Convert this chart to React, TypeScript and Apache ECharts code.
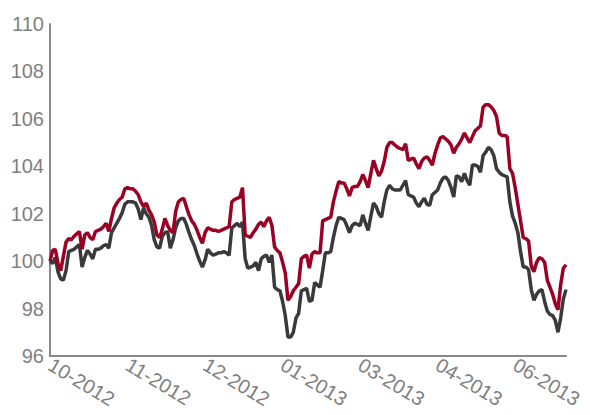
import React, { useEffect, useRef } from "react";
import * as echarts from "echarts";

const startDate = "2012-10-02";
const pointCount = 194;
const yTicks = { min: 96, max: 110, interval: 2 };

const redValues = [
  100.0, 100.45, 100.5, 99.9, 99.6, 100.2, 100.8, 100.95, 100.9, 101.05,
  101.15, 101.25, 100.5, 101.1, 101.2, 101.0, 100.9, 101.25, 101.3, 101.35,
  101.45, 101.6, 101.25, 101.8, 102.25, 102.45, 102.6, 102.7, 103.05, 103.1,
  103.05, 103.05, 102.95, 102.8, 102.5, 102.3, 102.45, 102.15, 101.95, 101.65,
  101.1, 101.0, 101.35, 101.8, 101.5, 101.3, 101.2, 102.1, 102.5, 102.6,
  102.65, 102.3, 101.95, 101.7, 101.55, 101.3, 101.0, 100.75, 101.2, 101.4,
  101.35, 101.3, 101.3, 101.25, 101.3, 101.35, 101.4, 101.45, 102.5, 102.6,
  102.65, 102.7, 103.1, 101.1, 101.05, 101.0, 101.2, 101.35, 101.55, 101.65,
  101.45, 101.7, 101.85, 101.5, 100.6, 100.45, 100.35, 99.95, 99.5, 98.35,
  98.5, 98.75, 98.9, 99.05, 100.1, 100.2, 100.25, 99.7, 100.3, 100.4,
  100.35, 100.35, 101.7, 101.75, 101.8, 101.85, 102.5, 102.95, 103.35, 103.3,
  103.3, 103.05, 102.75, 103.1, 103.15, 103.15, 103.35, 103.65, 103.4, 103.1,
  103.7, 104.25, 103.9, 103.6, 103.8, 104.2, 104.8, 105.0, 105.0, 104.9,
  104.8, 104.75, 104.7, 104.95, 104.25, 104.3, 104.35, 104.1, 103.9, 104.2,
  104.35, 104.4, 104.25, 104.05, 104.55, 104.9, 105.2, 105.25, 105.15, 105.05,
  104.9, 104.55, 104.8, 104.95, 105.15, 105.4, 105.2, 105.0, 105.25, 105.5,
  105.6, 105.7, 106.5, 106.6, 106.6, 106.5, 106.35, 106.1, 105.4, 105.3,
  105.3, 105.25, 103.9, 103.7, 103.1, 102.4, 101.7, 101.0, 100.95, 100.85,
  99.8, 99.55, 99.95, 100.15, 100.1, 99.95, 99.2, 98.9, 98.6, 98.2,
  97.95, 99.0, 99.7, 99.85,
];

const grayValues = [
  100.0, 99.9, 100.15, 99.55, 99.25, 99.2, 99.6, 100.4, 100.45, 100.5,
  100.6, 100.7, 99.75, 100.15, 100.45, 100.3, 100.1, 100.5, 100.5, 100.55,
  100.65, 100.7, 100.55, 101.2, 101.4, 101.6, 101.8, 102.05, 102.4, 102.5,
  102.5, 102.5, 102.45, 102.2, 101.75, 102.25, 102.0, 101.85, 101.5, 100.9,
  100.6, 100.55, 101.05, 101.2, 101.25, 100.55, 100.9, 101.4, 101.7, 101.8,
  101.8, 101.55, 101.2, 100.9, 100.65, 100.3, 100.0, 99.75, 100.05, 100.5,
  100.35, 100.25, 100.3, 100.35, 100.35, 100.4, 100.35, 100.25, 101.4, 101.5,
  101.6, 101.45, 101.65, 100.1, 99.7, 99.75, 99.8, 99.95, 99.6, 100.1,
  100.2, 100.25, 99.95, 100.25, 98.9, 98.8, 98.75, 98.3, 97.7, 96.8,
  96.8, 97.0, 97.6, 97.8, 98.75, 98.8, 98.85, 98.3, 98.35, 99.1,
  99.0, 98.9, 99.6, 100.35, 100.35, 100.4, 101.0, 101.5, 101.85, 101.8,
  101.75, 101.5, 101.2, 101.5, 101.6, 101.55, 101.5, 101.95, 101.6, 101.3,
  101.9, 102.45, 102.3, 102.0, 101.85, 102.5, 103.0, 103.2, 103.05, 103.0,
  103.0, 103.0, 103.2, 103.4, 102.8, 102.75, 102.7, 102.45, 102.3, 102.5,
  102.65, 102.4, 102.35, 102.8, 102.9, 103.0, 103.3, 103.5, 103.55, 103.4,
  103.1, 102.7, 103.6, 103.55, 103.35, 103.7, 103.4, 103.2, 104.05, 104.05,
  104.0, 103.75, 104.45, 104.6, 104.8, 104.7, 104.45, 103.9, 103.75, 103.65,
  103.6, 103.55, 102.5, 101.9, 101.6, 101.2, 100.4, 99.75, 99.75, 99.65,
  98.8, 98.35, 98.6, 98.75, 98.8, 98.3, 97.9, 97.75, 97.7, 97.5,
  97.0, 97.6, 98.4, 98.8,
];

function businessDays(start: string, count: number): string[] {
  const out: string[] = [];
  const d = new Date(start + "T00:00:00Z");
  while (out.length < count) {
    const wd = d.getUTCDay();
    if (wd !== 0 && wd !== 6) {
      const mm = String(d.getUTCMonth() + 1).padStart(2, "0");
      const dd = String(d.getUTCDate()).padStart(2, "0");
      out.push(`${d.getUTCFullYear()}-${mm}-${dd}`);
    }
    d.setUTCDate(d.getUTCDate() + 1);
  }
  return out;
}

const categories = businessDays(startDate, pointCount);

export default function App() {
  const ref = useRef<HTMLDivElement>(null);
  useEffect(() => {
    if (!ref.current) return;
    const chart = echarts.init(ref.current, null, { renderer: "svg" });
    const font = "'Liberation Sans', Arial, sans-serif";
    chart.setOption({
      animation: false,
      grid: { left: 50, right: 24, top: 24, bottom: 59, containLabel: false },
      xAxis: {
        type: "category",
        data: categories,
        boundaryGap: false,
        axisLine: { show: true, lineStyle: { color: "#888888", width: 2 } },
        axisTick: { show: false },
        splitLine: { show: false },
        axisLabel: {
          interval: 28,
          rotate: -31,
          margin: 7,
          color: "#7f7f7f",
          fontSize: 20,
          fontFamily: font,
          hideOverlap: false,
          formatter: (v: string) => `${v.slice(5, 7)}-${v.slice(0, 4)}`,
        },
      },
      yAxis: {
        type: "value",
        min: yTicks.min,
        max: yTicks.max,
        interval: yTicks.interval,
        axisLine: { show: true, lineStyle: { color: "#888888", width: 2 } },
        axisTick: { show: false },
        splitLine: { show: false },
        axisLabel: {
          color: "#7f7f7f",
          fontSize: 20,
          fontFamily: font,
          margin: 6,
        },
      },
      series: [
        {
          name: "Gray",
          type: "line",
          data: grayValues,
          showSymbol: false,
          symbol: "none",
          lineStyle: { color: "#3a3a3a", width: 3.5 },
        },
        {
          name: "Red",
          type: "line",
          data: redValues,
          showSymbol: false,
          symbol: "none",
          lineStyle: { color: "#9b0025", width: 3.5 },
        },
      ],
    });
    return () => chart.dispose();
  }, []);
  return (
    <div
      ref={ref}
      style={{ position: "absolute", left: 0, top: 0, width: 590, height: 415 }}
    />
  );
}
